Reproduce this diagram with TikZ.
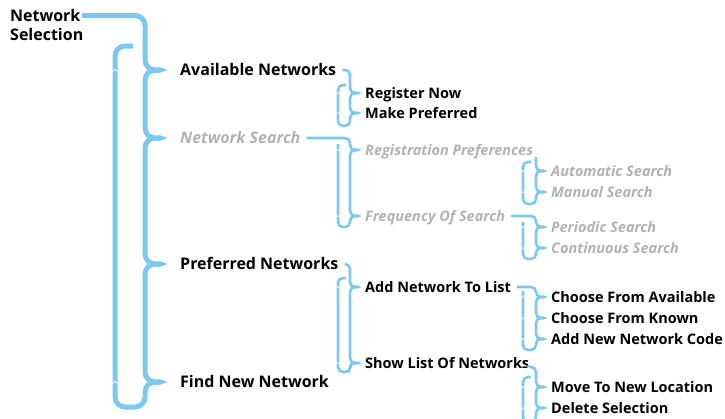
\documentclass[tikz,border=0pt]{standalone}
\usepackage{fontspec}
\setmainfont{Open Sans}
\usepackage{xcolor}
\usetikzlibrary{arrows.meta,calc}

\definecolor{menublue}{RGB}{125,200,240}
\definecolor{menugray}{RGB}{178,178,178}

\begin{document}
\begin{tikzpicture}[
  x=1pt, y=-1pt,
  every node/.style={anchor=west, inner sep=0pt},
  headitem/.style={font=\fontsize{16}{19.5}\selectfont\bfseries, align=left},
  topitem/.style={font=\fontsize{16}{19.5}\selectfont\bfseries, text height=11pt, text depth=0pt},
  subitem/.style={font=\fontsize{14.5}{17}\selectfont\bfseries, text height=10pt, text depth=0pt},
  off/.style={text=menugray, execute at begin node=\itshape},
  trunk/.style={draw=menublue, line width=5pt, rounded corners=10pt},
  branch/.style={draw=menublue, line width=2.6pt, rounded corners=5pt},
  tin/.style={-{Triangle[length=9pt,width=5pt]}},
  tout/.style={{Triangle[length=9pt,width=5pt]}-},
  tboth/.style={{Triangle[length=9pt,width=5pt]}-{Triangle[length=9pt,width=5pt]}},
  bin/.style={-{Triangle[length=5pt,width=2.6pt]}},
  bout/.style={{Triangle[length=5pt,width=2.6pt]}-},
  bboth/.style={{Triangle[length=5pt,width=2.6pt]}-{Triangle[length=5pt,width=2.6pt]}},
  notch/.style={draw=white, line width=0.7pt},
]
\useasboundingbox (0,0) rectangle (725,418);

%% menu items
\node[headitem, anchor=north west] (netsel) at (10,8.8) {Network\\Selection};

\node[topitem] (avail) at (180,70) {Available Networks};
\node[topitem, off] (netsearch) at (180,138) {Network Search};
\node[topitem] (pref) at (180,264) {Preferred Networks};
\node[topitem] (findnew) at (180,382) {Find New Network};

\node[subitem] (regnow) at (365,93) {Register Now};
\node[subitem] (makepref) at (365,113) {Make Preferred};
\node[subitem, off] (regpref) at (365,150) {Registration Preferences};
\node[subitem, off] (freq) at (365,216) {Frequency Of Search};
\node[subitem] (addlist) at (365,287) {Add Network To List};
\node[subitem] (showlist) at (365,363) {Show List Of Networks};

\node[subitem, off] (auto) at (551,171) {Automatic Search};
\node[subitem, off] (manual) at (551,192) {Manual Search};
\node[subitem, off] (periodic) at (551,227) {Periodic Search};
\node[subitem, off] (contin) at (551,248) {Continuous Search};
\node[subitem] (chavail) at (551,297) {Choose From Available};
\node[subitem] (chknown) at (551,318) {Choose From Known};
\node[subitem] (addcode) at (551,339) {Add New Network Code};
\node[subitem] (moveloc) at (551,387) {Move To New Location};
\node[subitem] (delsel) at (551,408) {Delete Selection};

%% columns
\coordinate (trunkx) at (145,0);
\coordinate (loopT) at (115,0);
\coordinate (colA) at (350,0);
\coordinate (loopA) at (338,0);
\coordinate (colB) at (536,0);
\coordinate (loopB) at (523,0);
\coordinate (headend) at (82,15.5);

%% top level
\draw[trunk, tin] (headend) -| (trunkx |- avail.west) -- ($(avail.west)+(-12,0)$);
\foreach \a/\b in {avail/netsearch, netsearch/pref, pref/findnew}
  \draw[trunk, tboth] ($(\a.west)+(-12,0)$) -| (trunkx |- \b.west) -- ($(\b.west)+(-12,0)$);
\draw[trunk, tout] ($(findnew.west)+(-12,0)$) -| ($(trunkx |- findnew.west)+(0,25)$)
  -| ($(loopT |- headend)+(0,30.5)$) -- ++(18,0);
\foreach \n in {avail, findnew}
  \draw[notch] ($(loopT |- \n.west)+(-3,1.5)$) -- ++(3,-2) -- ++(3,2);

%% leads from parent to first child
\foreach \p/\c/\col in {avail/regnow/colA, netsearch/regpref/colA, pref/addlist/colA,
    freq/periodic/colB, addlist/chavail/colB}
  \draw[branch, bin] ($(\p.east)+(6,0)$) -| (\col |- \c.west) -- ($(\c.west)+(-3,0)$);
\draw[branch, bin] ($(colB |- regpref.south)+(0,2)$) |- ($(auto.west)+(-3,0)$);
\draw[branch, bin] ($(showlist.east)+(4,4)$) -| (colB |- moveloc.west) -- ($(moveloc.west)+(-3,0)$);

%% child to child
\foreach \a/\b/\col in {regnow/makepref/colA, regpref/freq/colA, addlist/showlist/colA,
    auto/manual/colB, periodic/contin/colB, chavail/chknown/colB, chknown/addcode/colB,
    moveloc/delsel/colB}
  \draw[branch, bboth] ($(\a.west)+(-3,0)$) -| (\col |- \b.west) -- ($(\b.west)+(-3,0)$);

%% back loops
\draw[branch, bout] ($(makepref.west)+(-3,0)$) -| ($(colA |- makepref.west)+(0,13)$)
  -| ($(loopA |- avail.west)+(0,15)$) -- ++(8,0);
\draw[branch, bout] ($(freq.west)+(-3,0)$) -| ($(colA |- freq.west)+(0,11)$)
  -| ($(loopA |- netsearch.west)+(0,6)$);
\draw[branch, bout] ($(showlist.west)+(-3,0)$) -| ($(colA |- showlist.west)+(0,9)$)
  -| ($(loopA |- pref.west)+(0,14)$) -- ++(8,0);
\draw[branch, bout] ($(manual.west)+(-3,0)$) -| ($(colB |- manual.west)+(0,12)$)
  -| ($(loopB |- regpref.west)+(0,12)$) -- ++(8,0);
\draw[branch, bout] ($(contin.west)+(-3,0)$) -| ($(colB |- contin.west)+(0,11)$)
  -| ($(loopB |- freq.west)+(0,6)$);
\draw[branch, bout] ($(addcode.west)+(-3,0)$) -| ($(colB |- addcode.west)+(0,11)$)
  -| ($(loopB |- addlist.west)+(0,4)$);
\draw[branch, bout] ($(delsel.west)+(-3,0)$) -| ($(colB |- delsel.west)+(0,14)$)
  -| ($(loopB |- showlist.west)+(0,14)$) -- ++(8,0);
\foreach \n/\l in {regnow/loopA, makepref/loopA, regpref/loopA, freq/loopA,
    addlist/loopA, showlist/loopA, auto/loopB, manual/loopB, periodic/loopB,
    contin/loopB, chavail/loopB, chknown/loopB, addcode/loopB, moveloc/loopB, delsel/loopB}
  \draw[notch] ($(\l |- \n.west)+(-2,1)$) -- ++(2,-1.3) -- ++(2,1.3);

\end{tikzpicture}
\end{document}
